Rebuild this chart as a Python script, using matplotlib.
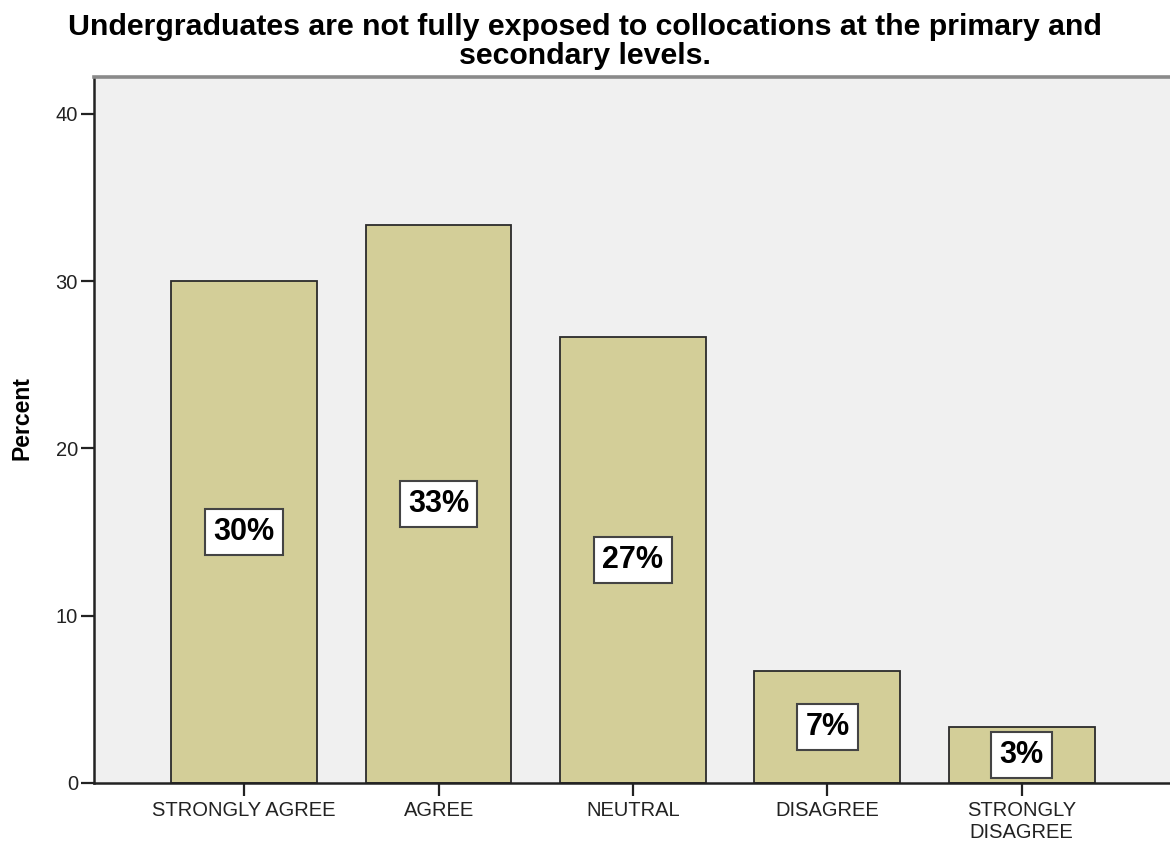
import matplotlib
matplotlib.use("Agg")
import matplotlib.pyplot as plt

# Survey responses (percent of respondents)
categories = ["STRONGLY AGREE", "AGREE", "NEUTRAL", "DISAGREE", "STRONGLY\nDISAGREE"]
percents = [30.0, 33.33, 26.67, 6.67, 3.33]
labels = ["30%", "33%", "27%", "7%", "3%"]
yticks = [0, 10, 20, 30, 40]

title_lines = ["Undergraduates are not fully exposed to collocations at the primary and",
               "secondary levels."]

plt.rcParams["font.family"] = ["Liberation Sans", "DejaVu Sans"]

W, H = 1170, 842
fig = plt.figure(figsize=(W / 100, H / 100), dpi=100)
fig.patch.set_facecolor("white")
ax = fig.add_axes([94 / W, 1 - 783 / H, 1 - 94 / W, (783 - 77) / H])
ax.set_facecolor("#f0f0f0")

x = list(range(len(categories)))
ax.bar(x, percents, width=0.75, color="#d3ce98", edgecolor="#2b2b2b",
       linewidth=1.3, zorder=2)

for xi, v, lab in zip(x, percents, labels):
    ax.text(xi, v / 2, lab, ha="center", va="center", fontsize=22,
            fontweight="bold", color="black", zorder=3,
            bbox=dict(boxstyle="square,pad=0.27", facecolor="white",
                      edgecolor="#444444", linewidth=1.5))

ax.set_xlim(-0.773, 4.763)
ax.set_ylim(0, 42.2)
ax.set_yticks(yticks)
ax.set_yticklabels([str(t) for t in yticks], fontsize=14.5, color="#222222")
ax.set_xticks(x)
ax.set_xticklabels(categories, fontsize=14.5, color="#222222", linespacing=1.2)

ax.tick_params(axis="y", direction="out", length=9.5, width=1.6, pad=2,
               color="#222222")
ax.tick_params(axis="x", direction="out", length=9, width=1.6, pad=4,
               color="#222222")

for side in ("left", "bottom"):
    ax.spines[side].set_color("#222222")
    ax.spines[side].set_linewidth(1.8)
ax.spines["right"].set_visible(False)
ax.spines["top"].set_color("#8a8a8a")
ax.spines["top"].set_linewidth(2.6)

fig.text(22 / W, 1 - 418 / H, "Percent", rotation=90, ha="center", va="center",
         fontsize=16.6, fontweight="bold")

fig.text(0.5, 1 - 35 / H, title_lines[0], ha="center", va="baseline",
         fontsize=21.8, fontweight="bold")
fig.text(0.5, 1 - 64 / H, title_lines[1], ha="center", va="baseline",
         fontsize=21.8, fontweight="bold")

fig.savefig("out.png", dpi=100, facecolor="white")
